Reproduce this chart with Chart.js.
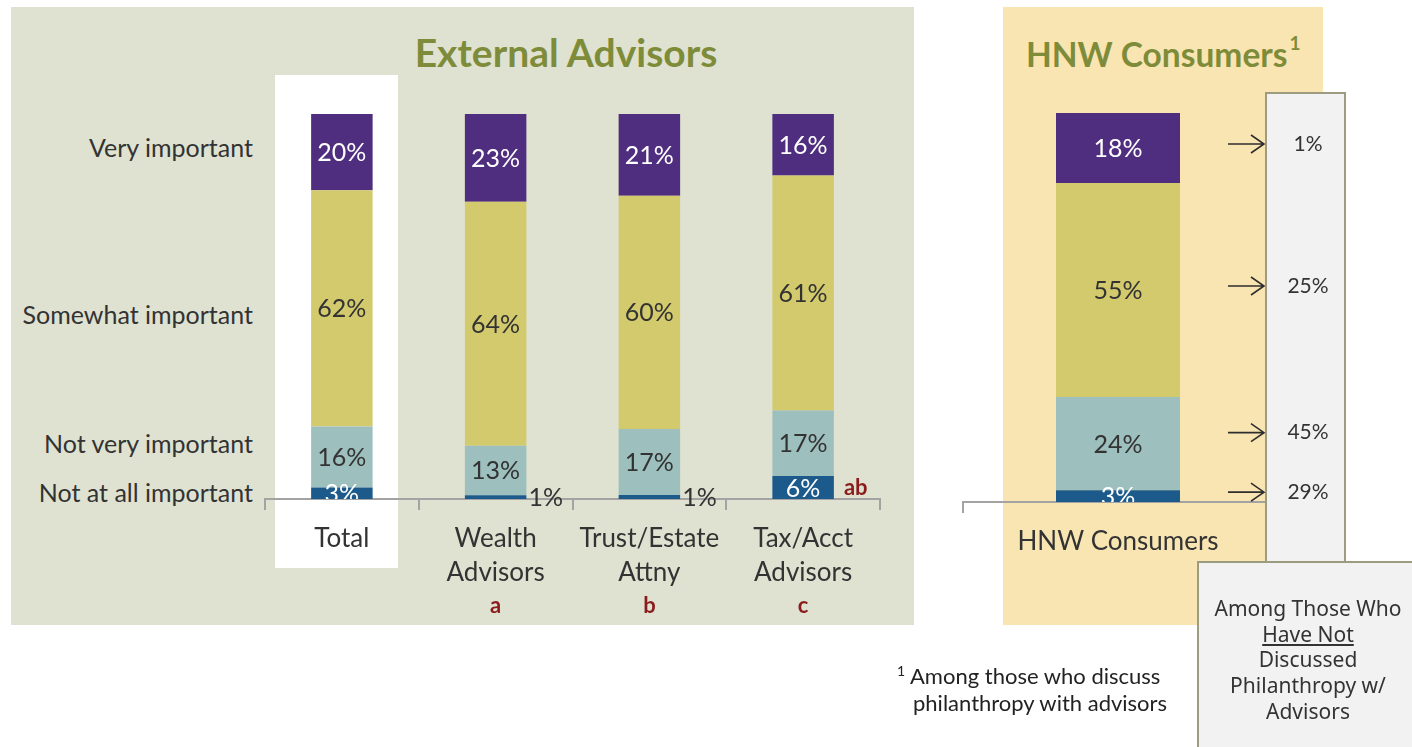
<!DOCTYPE html>
<html>
<head>
<meta charset="utf-8">
<script src="https://cdn.jsdelivr.net/npm/chart.js@4"></script>
<style>
  html, body { margin:0; padding:0; background:#fff; }
  body { width:1412px; height:747px; position:relative; overflow:hidden; font-family: Lato, "Open Sans", sans-serif; color:#333; }
  .abs { position:absolute; }
  #greenPanel { left:11px; top:7px; width:903px; height:618px; background:#DFE2D1; }
  #yellowPanel { left:1003px; top:7px; width:320px; height:618px; background:#F9E5B2; }
  #totalHi { left:275px; top:75px; width:123px; height:493px; background:#fff; }
  .title { color:#7E8C3A; font-weight:bold; white-space:nowrap; }
  .ylab { left:0; width:253px; text-align:right; font-size:25px; line-height:30px; color:#333; white-space:nowrap; }
  #c1 { left:11px; top:7px; }
  #c2 { left:950px; top:7px; }
  #caption { left:1198px; top:562px; width:220px; padding-top:34px; text-align:center; font-family:"Noto Sans", sans-serif; font-size:21px; line-height:25.7px; color:#333; white-space:nowrap; }
  #foot { left:897px; top:657px; font-size:22px; line-height:27px; color:#222; white-space:nowrap; }
</style>
</head>
<body>
<div id="greenPanel" class="abs"></div>
<div id="yellowPanel" class="abs"></div>
<div id="totalHi" class="abs"></div>
<div class="abs title" style="left:566px; transform:translateX(-50%); top:29px; font-size:39px; line-height:46px;">External Advisors</div>
<div class="abs title" style="left:1026px; top:27px; font-size:33.5px; line-height:42px;">HNW Consumers<sup style="font-size:19px; position:relative; top:-5px; margin-left:2px;">1</sup></div>

<div class="abs ylab" style="top:132px;">Very important</div>
<div class="abs ylab" style="top:299px;">Somewhat important</div>
<div class="abs ylab" style="top:428px;">Not very important</div>
<div class="abs ylab" style="top:477px;">Not at all important</div>

<canvas id="c1" class="abs" width="903" height="618"></canvas>
<canvas id="c2" class="abs" width="462" height="740"></canvas>

<div id="caption" class="abs">Among Those Who<br><span style="text-decoration:underline;">Have Not</span><br>Discussed<br>Philanthropy w/<br>Advisors</div>
<div id="foot" class="abs"><sup style="font-size:14px;">1</sup> Among those who discuss<br><span style="padding-left:16px;">philanthropy with advisors</span></div>

<script>
// ---------- Data ----------
const categories = [['Total'], ['Wealth', 'Advisors'], ['Trust/Estate', 'Attny'], ['Tax/Acct', 'Advisors']];
const groupLetters = ['', 'a', 'b', 'c'];
const veryImportant = [20, 23, 21, 16];
const somewhatImportant = [62, 64, 60, 61];
const notVeryImportant = [16, 13, 17, 17];
const notAtAllImportant = [3, 1, 1, 6];
const notAtAllSigFlags = ['', '', '', 'ab'];

const hnwCategories = ['HNW Consumers'];
const hnwVery = [18];
const hnwSomewhat = [55];
const hnwNotVery = [24];
const hnwNotAtAll = [3];
// Among those who have NOT discussed philanthropy with advisors (very, somewhat, not very, not at all)
const notDiscussed = [1, 25, 45, 29];

// ---------- Styles ----------
const COLORS = { very:'#4F2D7F', somewhat:'#D2CA6C', notVery:'#9DBFBE', notAtAll:'#1B5A8A' };
const LABEL_FONT = '25px Lato, "Open Sans", sans-serif';
const SIG_COLOR = '#8B1C1C';

function normalize(seriesList) {
  const n = seriesList[0].length;
  const totals = [];
  for (let i = 0; i < n; i++) totals.push(seriesList.reduce((s, a) => s + a[i], 0));
  return seriesList.map(a => a.map((v, i) => v / totals[i] * 100));
}

function makeDatasets(bottomToTop) {
  const norm = normalize(bottomToTop.map(d => d.values));
  return bottomToTop.map((d, k) => ({
    label: d.label,
    data: norm[k],
    orig: d.values,
    labelColor: d.labelColor,
    sig: d.sig || null,
    backgroundColor: d.color,
    borderWidth: 0,
    categoryPercentage: 1.0,
    barPercentage: 0.4
  }));
}

const valueLabelPlugin = {
  id: 'valueLabels',
  afterDatasetsDraw(chart) {
    const ctx = chart.ctx, area = chart.chartArea;
    chart.data.datasets.forEach((ds, di) => {
      const meta = chart.getDatasetMeta(di);
      meta.data.forEach((bar, i) => {
        const v = ds.orig[i];
        const top = Math.min(bar.y, bar.base), bot = Math.max(bar.y, bar.base);
        const mid = (top + bot) / 2;
        const right = bar.x + bar.width / 2;
        ctx.save();
        ctx.font = LABEL_FONT;
        ctx.textBaseline = 'middle';
        if (v < 2) {
          ctx.fillStyle = '#333';
          ctx.textAlign = 'left';
          ctx.fillText(v + '%', right + 2, mid + 1);
        } else {
          ctx.beginPath();
          ctx.rect(area.left, area.top - 40, area.right - area.left, area.bottom - area.top + 40);
          ctx.clip();
          ctx.fillStyle = ds.labelColor;
          ctx.textAlign = 'center';
          ctx.fillText(v + '%', bar.x, mid + 1);
        }
        ctx.restore();
        if (ds.sig && ds.sig[i]) {
          ctx.save();
          ctx.font = 'bold 22px Lato, sans-serif';
          ctx.fillStyle = SIG_COLOR;
          ctx.textAlign = 'left';
          ctx.textBaseline = 'middle';
          ctx.fillText(ds.sig[i], right + 10, mid);
          ctx.restore();
        }
      });
    });
  }
};

const groupLetterPlugin = {
  id: 'groupLetters',
  afterDraw(chart) {
    const ctx = chart.ctx, xs = chart.scales.x, area = chart.chartArea;
    ctx.save();
    ctx.font = 'bold 22px Lato, sans-serif';
    ctx.fillStyle = SIG_COLOR;
    ctx.textAlign = 'center';
    ctx.textBaseline = 'middle';
    groupLetters.forEach((l, i) => { if (l) ctx.fillText(l, xs.getPixelForValue(i), area.bottom + 107); });
    ctx.restore();
  }
};

function commonOptions(pad, axisHeight) {
  return {
    responsive: false,
    animation: false,
    devicePixelRatio: 1,
    layout: { padding: pad },
    plugins: { legend: { display: false }, tooltip: { enabled: false } },
    scales: {
      x: {
        stacked: true,
        offset: true,
        grid: { display: true, drawOnChartArea: false, drawTicks: true, tickLength: 11, color: '#A3A3A3', lineWidth: 2 },
        border: { display: true, color: '#A3A3A3', width: 2 },
        ticks: { color: '#333', font: { family: 'Lato, "Open Sans", sans-serif', size: 26, lineHeight: 1.3 }, padding: 12, maxRotation: 0, autoSkip: false },
        afterFit(s) { s.height = axisHeight; }
      },
      y: { stacked: true, display: false, min: 0, max: 100 }
    }
  };
}

// ---------- Chart 1: External Advisors ----------
new Chart(document.getElementById('c1'), {
  type: 'bar',
  data: {
    labels: categories,
    datasets: makeDatasets([
      { label: 'Not at all important', values: notAtAllImportant, color: COLORS.notAtAll, labelColor: '#fff', sig: notAtAllSigFlags },
      { label: 'Not very important', values: notVeryImportant, color: COLORS.notVery, labelColor: '#333' },
      { label: 'Somewhat important', values: somewhatImportant, color: COLORS.somewhat, labelColor: '#333' },
      { label: 'Very important', values: veryImportant, color: COLORS.very, labelColor: '#fff' }
    ])
  },
  options: commonOptions({ left: 254, right: 34, top: 107, bottom: 0 }, 126),
  plugins: [valueLabelPlugin, groupLetterPlugin]
});

// ---------- Chart 2: HNW Consumers ----------
const OFFX = 950, OFFY = 7;
const sidePanelPlugin = {
  id: 'sidePanel',
  afterDraw(chart) {
    const ctx = chart.ctx, ys = chart.scales.y;
    ctx.save();
    // narrow box
    ctx.fillStyle = '#F2F2F2';
    ctx.strokeStyle = '#9E9C80';
    ctx.lineWidth = 2;
    ctx.fillRect(1266 - OFFX, 93 - OFFY, 79, 469);
    ctx.strokeRect(1266 - OFFX, 93 - OFFY, 79, 469);
    // bottom box
    ctx.fillRect(1198 - OFFX, 562 - OFFY, 230, 200);
    ctx.strokeRect(1198 - OFFX, 562 - OFFY, 230, 200);
    // arrows and values, aligned with HNW segments
    const ds = chart.data.datasets; // bottom to top
    let cum = 0;
    const mids = [];
    ds.forEach(d => { const v = d.data[0]; mids.push(cum + v / 2); cum += v; });
    const order = [3, 2, 1, 0]; // very, somewhat, not very, not at all
    ctx.strokeStyle = '#2E2E2E';
    ctx.lineWidth = 1.6;
    ctx.fillStyle = '#333';
    ctx.font = '21px Lato, sans-serif';
    ctx.textAlign = 'center';
    ctx.textBaseline = 'middle';
    order.forEach((di, k) => {
      const y = ys.getPixelForValue(mids[di]) - (di === 1 ? 11 : 4);
      const x1 = 1228 - OFFX, x2 = 1264 - OFFX;
      ctx.beginPath();
      ctx.moveTo(x1, y); ctx.lineTo(x2, y);
      ctx.moveTo(x2 - 13, y - 9); ctx.lineTo(x2, y); ctx.lineTo(x2 - 13, y + 9);
      ctx.stroke();
      ctx.fillText(notDiscussed[k] + '%', 1308 - OFFX, y);
    });
    ctx.restore();
  }
};

new Chart(document.getElementById('c2'), {
  type: 'bar',
  data: {
    labels: hnwCategories,
    datasets: makeDatasets([
      { label: 'Not at all important', values: hnwNotAtAll, color: COLORS.notAtAll, labelColor: '#fff' },
      { label: 'Not very important', values: hnwNotVery, color: COLORS.notVery, labelColor: '#333' },
      { label: 'Somewhat important', values: hnwSomewhat, color: COLORS.somewhat, labelColor: '#333' },
      { label: 'Very important', values: hnwVery, color: COLORS.very, labelColor: '#fff' }
    ])
  },
  options: commonOptions({ left: 13, right: 139, top: 106, bottom: 122 }, 123),
  plugins: [valueLabelPlugin, sidePanelPlugin]
});
</script>
</body>
</html>
